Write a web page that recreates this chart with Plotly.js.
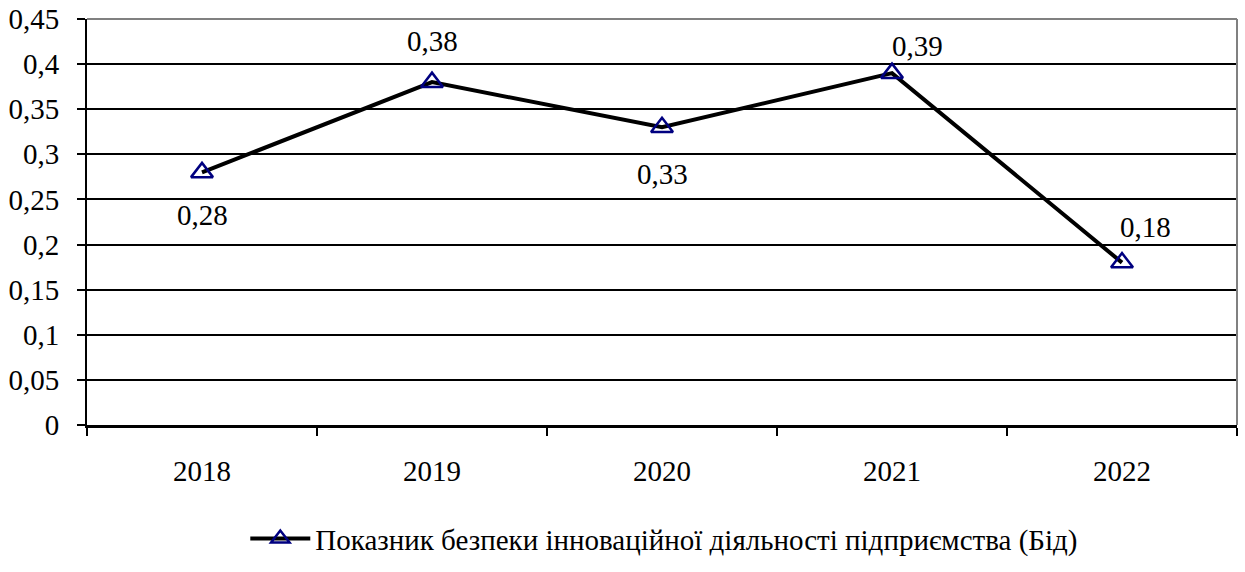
<!DOCTYPE html>
<html><head><meta charset="utf-8">
<script src="https://cdn.plot.ly/plotly-3.0.1.min.js"></script>
<style>html,body{margin:0;padding:0;background:#fff}</style>
</head><body><div id="chart" style="width:1245px;height:572px"></div>
<script>
const years = ['2018','2019','2020','2021','2022'];
const values = [0.28, 0.38, 0.33, 0.39, 0.18];
const valueLabels = ['0,28','0,38','0,33','0,39','0,18'];
const seriesName = 'Показник безпеки інноваційної діяльності підприємства (Бід)';
const yTickVals = [0,0.05,0.1,0.15,0.2,0.25,0.3,0.35,0.4,0.45];
const yTickText = ['0','0,05','0,1','0,15','0,2','0,25','0,3','0,35','0,4','0,45'];

const labelShift = [[0,-43],[0,41],[0,-47],[25,27],[23,36]];
function F(){ return {family:'Liberation Serif', size:29, color:'#000000'}; }

const trace = {
  x: years, y: values, type:'scatter', mode:'lines+markers', name: seriesName,
  line:{color:'#000', width:4},
  marker:{symbol:'triangle-up-open', size:19, color:'#000080', line:{color:'#000080', width:2.5}},
  hoverinfo:'skip'
};
const annotations = years.map((yr,i)=>({
  x: i, y: values[i], xref:'x', yref:'y', text: valueLabels[i], showarrow:false,
  xshift: labelShift[i][0], yshift: labelShift[i][1], font: F()
}));
const layout = {
  width:1245, height:572,
  margin:{l:87, r:8, t:19, b:144},
  paper_bgcolor:'#fff', plot_bgcolor:'#fff',
  showlegend:true,
  legend:{orientation:'h', x:0.502, xanchor:'center', y:-0.28, yanchor:'middle', font:F(), itemwidth:60},
  xaxis:{type:'category', tickson:'boundaries', ticks:'outside', ticklen:8, tickwidth:2, tickcolor:'#000',
    showline:true, linecolor:'#000', linewidth:3, showgrid:false, zeroline:false, ticklabelstandoff:18,
    range:[-0.5,4.5], tickfont:F()},
  yaxis:{range:[0,0.45], tickvals:yTickVals, ticktext:yTickText, ticks:'outside', ticklen:8, tickwidth:2,
    tickcolor:'#000', showline:true, linecolor:'#000', linewidth:2, showgrid:true, gridcolor:'#000', gridwidth:2,
    zeroline:false, ticklabelstandoff:12, tickfont:F()},
  shapes:[
    {type:'line', xref:'paper', yref:'paper', x0:0, x1:1, y0:1, y1:1, line:{color:'#808080', width:2}},
    {type:'line', xref:'paper', yref:'paper', x0:1, x1:1, y0:0, y1:1, line:{color:'#808080', width:2}}
  ],
  annotations: annotations
};
Plotly.newPlot('chart',[trace],layout,{displayModeBar:false});
</script></body></html>
